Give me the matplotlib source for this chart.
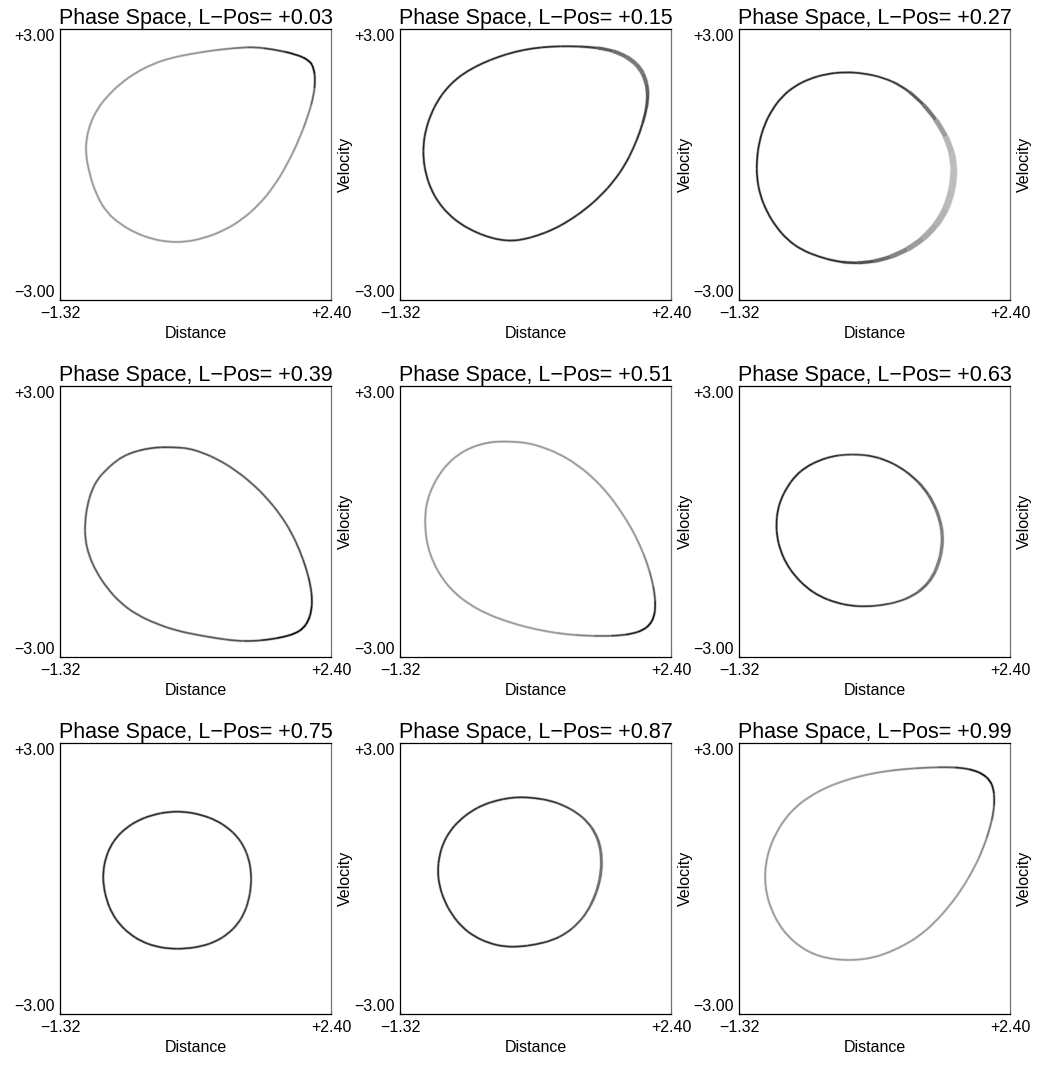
import matplotlib
matplotlib.use("Agg")
import matplotlib.pyplot as plt
from matplotlib.path import Path
from matplotlib.patches import PathPatch

# ---------------- data ----------------
lpos = [0.03, 0.15, 0.27, 0.39, 0.51, 0.63, 0.75, 0.87, 0.99]
x_ticks = [-1.32, 2.40]
y_ticks = [-3.00, 3.00]

dist_1 = [1.436, 2.084, 2.194, 2.153, 1.891, 1.532, 1.064, 0.513, 0.058, -0.397, -0.769, -0.975, -0.948, -0.769, -0.397, 0.058, 0.609, 1.064]
vel_1 = [2.608, 2.387, 2.026, 1.362, 0.255, -0.720, -1.384, -1.716, -1.716, -1.450, -0.941, 0.100, 0.764, 1.362, 1.937, 2.314, 2.491, 2.579]
dens_1 = [0.68, 0.97, 0.90, 0.50, 0.40, 0.40, 0.40, 0.40, 0.40, 0.40, 0.40, 0.40, 0.40, 0.40, 0.40, 0.40, 0.42, 0.50]

dist_2 = [1.160, 1.619, 1.941, 2.079, 2.079, 1.941, 1.711, 1.343, 0.884, 0.471, 0.150, -0.218, -0.586, -0.861, -0.999, -0.999, -0.861, -0.631, -0.310, 0.150, 0.609]
vel_2 = [2.624, 2.535, 2.241, 1.798, 1.280, 0.542, -0.195, -0.859, -1.377, -1.634, -1.709, -1.561, -1.229, -0.713, -0.049, 0.616, 1.280, 1.798, 2.165, 2.462, 2.608]
dens_2 = [0.80, 0.58, 0.52, 0.58, 0.72, 0.82, 0.84, 0.84, 0.84, 0.84, 0.84, 0.84, 0.84, 0.84, 0.84, 0.84, 0.84, 0.84, 0.84, 0.84, 0.84]

dist_3 = [0.255, 0.806, 1.219, 1.542, 1.656, 1.542, 1.219, 0.760, 0.302, -0.112, -0.572, -0.893, -1.076, -1.076, -0.938, -0.663, -0.249]
vel_3 = [2.070, 1.871, 1.355, 0.616, -0.122, -1.007, -1.672, -2.077, -2.203, -2.114, -1.820, -1.229, -0.492, 0.321, 1.058, 1.649, 1.982]
dens_3 = [0.84, 0.78, 0.62, 0.30, 0.25, 0.28, 0.35, 0.52, 0.74, 0.84, 0.86, 0.86, 0.86, 0.86, 0.86, 0.86, 0.84]

dist_4 = [-0.080, 0.196, 0.517, 0.977, 1.436, 1.803, 2.032, 2.148, 2.124, 1.987, 1.666, 1.206, 0.701, 0.150, -0.401, -0.769, -0.976, -0.976, -0.861, -0.631, -0.401]
vel_4 = [1.634, 1.649, 1.612, 1.280, 0.691, -0.049, -0.859, -1.598, -2.114, -2.446, -2.595, -2.668, -2.557, -2.373, -1.966, -1.302, -0.565, 0.173, 0.837, 1.244, 1.501]
dens_4 = [0.72, 0.72, 0.66, 0.64, 0.64, 0.64, 0.68, 0.80, 0.95, 0.97, 0.90, 0.68, 0.64, 0.64, 0.64, 0.64, 0.64, 0.64, 0.64, 0.64, 0.66]

dist_5 = [-0.126, 0.196, 0.517, 0.977, 1.436, 1.803, 2.032, 2.170, 2.193, 2.079, 1.803, 1.343, 0.839, 0.288, -0.263, -0.677, -0.930, -0.989, -0.930, -0.723, -0.448]
vel_5 = [1.760, 1.776, 1.723, 1.428, 0.837, 0.027, -0.713, -1.450, -2.041, -2.373, -2.520, -2.542, -2.484, -2.298, -1.966, -1.450, -0.713, 0.027, 0.616, 1.207, 1.576]
dens_5 = [0.42, 0.42, 0.40, 0.40, 0.40, 0.40, 0.44, 0.60, 0.92, 0.96, 0.82, 0.52, 0.40, 0.40, 0.40, 0.40, 0.40, 0.40, 0.40, 0.40, 0.40]

dist_6 = [0.241, 0.609, 0.977, 1.298, 1.481, 1.459, 1.298, 0.977, 0.517, 0.103, -0.310, -0.631, -0.792, -0.814, -0.723, -0.493, -0.126]
vel_6 = [1.501, 1.428, 1.134, 0.616, -0.122, -0.786, -1.377, -1.745, -1.893, -1.855, -1.598, -1.080, -0.492, 0.100, 0.616, 1.134, 1.428]
dens_6 = [0.72, 0.82, 0.78, 0.60, 0.50, 0.50, 0.55, 0.68, 0.76, 0.84, 0.86, 0.86, 0.86, 0.86, 0.86, 0.86, 0.84]

dist_7 = [0.288, 0.747, 1.068, 1.252, 1.321, 1.252, 1.068, 0.747, 0.288, -0.126, -0.448, -0.655, -0.746, -0.677, -0.493, -0.172]
vel_7 = [1.517, 1.368, 1.036, 0.593, 0.004, -0.660, -1.140, -1.472, -1.583, -1.472, -1.140, -0.660, 0.004, 0.593, 1.036, 1.368]
dens_7 = [0.82, 0.82, 0.80, 0.78, 0.76, 0.76, 0.78, 0.80, 0.82, 0.82, 0.82, 0.82, 0.82, 0.82, 0.82, 0.82]

dist_8 = [0.426, 0.839, 1.206, 1.412, 1.459, 1.390, 1.206, 0.884, 0.426, 0.012, -0.401, -0.677, -0.814, -0.769, -0.586, -0.263, 0.103]
vel_8 = [1.811, 1.700, 1.368, 0.890, 0.299, -0.292, -0.881, -1.324, -1.510, -1.510, -1.213, -0.660, 0.004, 0.669, 1.185, 1.590, 1.776]
dens_8 = [0.82, 0.78, 0.70, 0.58, 0.55, 0.58, 0.66, 0.78, 0.82, 0.82, 0.82, 0.82, 0.82, 0.82, 0.82, 0.82, 0.82]

dist_9 = [1.436, 1.849, 2.101, 2.193, 2.170, 1.987, 1.666, 1.252, 0.839, 0.426, -0.035, -0.401, -0.723, -0.930, -0.976, -0.883, -0.631, -0.263, 0.196, 0.747]
vel_9 = [2.475, 2.440, 2.254, 1.922, 1.333, 0.447, -0.438, -1.178, -1.583, -1.804, -1.804, -1.621, -1.178, -0.514, 0.151, 0.815, 1.479, 1.922, 2.218, 2.402]
dens_9 = [0.55, 0.90, 0.97, 0.85, 0.58, 0.42, 0.40, 0.40, 0.40, 0.40, 0.40, 0.40, 0.40, 0.40, 0.40, 0.40, 0.40, 0.40, 0.40, 0.45]

dists = [dist_1, dist_2, dist_3, dist_4, dist_5, dist_6, dist_7, dist_8, dist_9]
vels = [vel_1, vel_2, vel_3, vel_4, vel_5, vel_6, vel_7, vel_8, vel_9]
denss = [dens_1, dens_2, dens_3, dens_4, dens_5, dens_6, dens_7, dens_8, dens_9]

# ---------------- style ----------------
FONT = ["Liberation Sans", "DejaVu Sans"]
plt.rcParams["font.family"] = FONT
BASE_LW = 1.15
# smeared (blurred) stretches of the loops: panel -> {point index: stroke width}
SMEAR = {
    1: {1: 2.4, 2: 3.0, 3: 2.6, 4: 1.8},
    2: {2: 2.2, 3: 3.8, 4: 4.8, 5: 4.8, 6: 4.0, 7: 2.8, 8: 1.8},
    5: {3: 1.8, 4: 2.2, 5: 2.2, 6: 2.0},
    7: {3: 1.7, 4: 1.9, 5: 1.7},
}

fig = plt.figure(figsize=(10.37, 10.67), dpi=100)
W, H = 1037.0, 1067.0
col_left = [60, 400, 739]
row_top = [29, 386, 743]
aw, ah = 271, 271


def draw_loop(ax, xs, ys, dens, widths):
    n = len(xs)
    for i in range(n):
        ip, inx = i - 1, (i + 1) % n
        P = (xs[i], ys[i])
        m0 = ((xs[ip] + P[0]) / 2, (ys[ip] + P[1]) / 2)
        m1 = ((xs[inx] + P[0]) / 2, (ys[inx] + P[1]) / 2)
        # split the quadratic piece in two halves (de Casteljau)
        c0 = ((m0[0] + P[0]) / 2, (m0[1] + P[1]) / 2)
        c1 = ((m1[0] + P[0]) / 2, (m1[1] + P[1]) / 2)
        q = ((c0[0] + c1[0]) / 2, (c0[1] + c1[1]) / 2)
        w_i = widths.get(i, BASE_LW)
        w_p = widths.get(ip % n, BASE_LW)
        w_n = widths.get(inx, BASE_LW)
        halves = [
            ([m0, c0, q], (dens[ip] + 3 * dens[i]) / 4, (w_p + 3 * w_i) / 4),
            ([q, c1, m1], (dens[inx] + 3 * dens[i]) / 4, (w_n + 3 * w_i) / 4),
        ]
        for verts, d, lw in halves:
            path = Path(verts, [Path.MOVETO, Path.CURVE3, Path.CURVE3])
            ax.add_patch(PathPatch(path, fill=False, lw=lw + 0.9,
                                   edgecolor=str(1 - 0.3 * d), capstyle="butt", zorder=2))
            ax.add_patch(PathPatch(path, fill=False, lw=lw,
                                   edgecolor=str(1 - d), capstyle="butt", zorder=3))


def fmt(v):
    s = f"{v:+.2f}"
    return s.replace("-", "\u2212")


for k in range(9):
    r, c = divmod(k, 3)
    ax = fig.add_axes([col_left[c] / W, 1 - (row_top[r] + ah) / H, aw / W, ah / H])
    draw_loop(ax, dists[k], vels[k], denss[k], SMEAR.get(k, {}))
    ax.set_xlim(x_ticks[0], x_ticks[1])
    ax.set_ylim(y_ticks[0], y_ticks[1])
    ax.set_xticks(x_ticks)
    ax.set_xticklabels([fmt(v) for v in x_ticks])
    ax.set_yticks(y_ticks)
    ax.set_yticklabels([fmt(v) for v in y_ticks])
    ax.tick_params(direction="in", length=2, width=0.8, labelsize=11.5, pad=4)
    ylabs = ax.get_yticklabels()
    ylabs[0].set_va("bottom")
    ylabs[1].set_va("top")
    ax.set_xlabel("Distance", fontsize=11.5, labelpad=4)
    ax.yaxis.set_label_position("right")
    ax.set_ylabel("Velocity", fontsize=11.5, labelpad=5)
    ax.set_title(f"Phase Space, L\u2212Pos= {fmt(lpos[k])}", fontsize=15.5, pad=3)
    for side in ["top", "left", "bottom"]:
        ax.spines[side].set_color("black")
        ax.spines[side].set_linewidth(0.9)
    ax.spines["right"].set_color("0.45")
    ax.spines["right"].set_linewidth(0.9)

fig.savefig("out.png", dpi=100)
